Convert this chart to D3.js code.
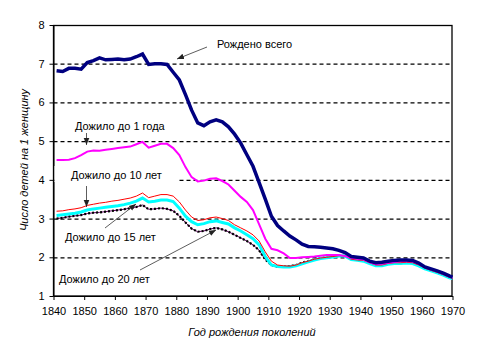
<!DOCTYPE html>
<html>
<head>
<meta charset="utf-8">
<script src="https://cdn.jsdelivr.net/npm/d3@7/dist/d3.min.js"></script>
<style>
  body { margin: 0; background: #fff; }
  text { font-family: "Liberation Sans", Arial, sans-serif; }
</style>
</head>
<body>
<div class="canvas"></div>
<script>
// Годы рождения поколений
const years = [1841, 1843, 1845, 1847, 1849, 1851, 1853, 1855, 1857, 1859,
  1861, 1863, 1865, 1867, 1869, 1871, 1873, 1875, 1877, 1879,
  1881, 1883, 1885, 1887, 1889, 1891, 1893, 1895, 1897, 1899,
  1901, 1903, 1905, 1907, 1909, 1911, 1913, 1915, 1917, 1919,
  1921, 1923, 1925, 1927, 1929, 1931, 1933, 1935, 1937, 1939,
  1941, 1943, 1945, 1947, 1949, 1951, 1953, 1955, 1957, 1959,
  1961, 1963, 1965, 1967, 1969, 1970];

const born = [6.82, 6.80, 6.88, 6.88, 6.86, 7.03, 7.08, 7.15, 7.10, 7.11,
  7.12, 7.10, 7.12, 7.18, 7.25, 6.98, 7.00, 7.00, 6.98, 6.78,
  6.58, 6.20, 5.80, 5.47, 5.40, 5.50, 5.55, 5.50, 5.37, 5.18,
  4.95, 4.65, 4.35, 3.93, 3.50, 3.06, 2.82, 2.68, 2.55, 2.45,
  2.34, 2.28, 2.27, 2.26, 2.24, 2.22, 2.18, 2.12, 2.02, 2.00,
  1.98, 1.90, 1.86, 1.87, 1.90, 1.92, 1.93, 1.93, 1.92, 1.85,
  1.75, 1.70, 1.65, 1.59, 1.52, 1.49];

const age1 = [4.51, 4.51, 4.52, 4.56, 4.64, 4.73, 4.76, 4.75, 4.78, 4.80,
  4.82, 4.84, 4.86, 4.92, 4.98, 4.83, 4.88, 4.93, 4.93, 4.82,
  4.64, 4.33, 4.07, 3.96, 3.98, 4.03, 4.04, 3.97, 3.88, 3.72,
  3.56, 3.43, 3.22, 2.85, 2.48, 2.22, 2.18, 2.10, 1.98, 1.98,
  2.00, 2.01, 2.02, 2.04, 2.06, 2.06, 2.06, 2.03, 1.98, 1.96,
  1.94, 1.87, 1.82, 1.83, 1.86, 1.88, 1.90, 1.90, 1.89, 1.83,
  1.74, 1.68, 1.63, 1.57, 1.50, 1.47];

const age10 = [3.19, 3.20, 3.23, 3.25, 3.28, 3.34, 3.37, 3.40, 3.42, 3.45,
  3.47, 3.50, 3.53, 3.58, 3.66, 3.54, 3.58, 3.62, 3.62, 3.58,
  3.43, 3.22, 3.04, 2.95, 2.97, 3.02, 3.04, 3.00, 2.95, 2.84,
  2.76, 2.68, 2.58, 2.42, 2.14, 1.90, 1.80, 1.78, 1.77, 1.80,
  1.86, 1.90, 1.95, 1.98, 2.00, 2.02, 2.04, 2.04, 1.95, 1.93,
  1.92, 1.86, 1.80, 1.80, 1.84, 1.86, 1.86, 1.87, 1.86, 1.80,
  1.72, 1.66, 1.61, 1.55, 1.48, 1.46];

const age15 = [3.08, 3.10, 3.12, 3.14, 3.17, 3.22, 3.25, 3.27, 3.29, 3.31,
  3.33, 3.36, 3.40, 3.45, 3.53, 3.43, 3.45, 3.48, 3.48, 3.44,
  3.27, 3.06, 2.92, 2.84, 2.87, 2.92, 2.94, 2.90, 2.86, 2.76,
  2.68, 2.58, 2.48, 2.32, 2.02, 1.80, 1.76, 1.75, 1.75, 1.78,
  1.83, 1.88, 1.93, 1.97, 1.99, 2.01, 2.03, 2.03, 1.94, 1.92,
  1.90, 1.84, 1.78, 1.78, 1.82, 1.84, 1.84, 1.85, 1.84, 1.78,
  1.70, 1.65, 1.60, 1.54, 1.47, 1.45];

const age20 = [3.00, 3.02, 3.05, 3.07, 3.09, 3.13, 3.15, 3.16, 3.18, 3.20,
  3.22, 3.24, 3.27, 3.30, 3.35, 3.24, 3.25, 3.27, 3.25, 3.20,
  3.07, 2.90, 2.74, 2.66, 2.68, 2.73, 2.76, 2.72, 2.66, 2.58,
  2.50, 2.42, 2.32, 2.18, 1.94, 1.80, 1.75, 1.76, 1.77, 1.80,
  1.86, 1.90, 1.95, 1.98, 2.00, 2.02, 2.04, 2.04, 1.95, 1.93,
  1.91, 1.85, 1.79, 1.80, 1.83, 1.85, 1.85, 1.86, 1.85, 1.79,
  1.71, 1.66, 1.61, 1.55, 1.48, 1.46];

const xTicks = [1840, 1850, 1860, 1870, 1880, 1890, 1900, 1910, 1920, 1930, 1940, 1950, 1960, 1970];
const yTicks = [1, 2, 3, 4, 5, 6, 7, 8];

const svg = d3.select('.canvas')
              .append('svg')
              .attr('width', 481)
              .attr('height', 359);

const plotLeft = 53.5, plotRight = 452.5, plotTop = 25, plotBottom = 296;

const x = d3.scaleLinear().domain([1840, 1970]).range([plotLeft, plotRight]);
const y = d3.scaleLinear().domain([1, 8]).range([plotBottom, plotTop]);

// horizontal dashed grid, made from an axis with long ticks
const gridAxis = d3.axisLeft(y)
                   .tickValues(yTicks.filter(d => d > 1 && d < 8))
                   .tickSize(-(plotRight - plotLeft))
                   .tickFormat('');
const gridGroup = svg.append('g')
                     .attr('transform', `translate(${plotLeft}, 0)`)
                     .call(gridAxis);
gridGroup.select('.domain').remove();
gridGroup.selectAll('line')
         .attr('stroke', '#000')
         .attr('stroke-width', 1.3)
         .attr('stroke-dasharray', '4,3');

// frame on top and right
svg.append('rect')
   .attr('x', plotLeft).attr('y', plotTop + 0.5)
   .attr('width', plotRight - plotLeft - 0.5)
   .attr('height', plotBottom - plotTop - 0.5)
   .attr('fill', 'none')
   .attr('stroke', '#000')
   .attr('stroke-width', 1.3);

// axes
const xAxis = d3.axisBottom(x).tickValues(xTicks).tickFormat(d3.format('d'))
                .tickSize(4).tickSizeOuter(0).tickPadding(7);
const yAxis = d3.axisLeft(y).tickValues(yTicks).tickFormat(d3.format('d'))
                .tickSize(4).tickSizeOuter(0).tickPadding(5);

const xg = svg.append('g').attr('transform', `translate(0, ${plotBottom})`).call(xAxis);
const yg = svg.append('g').attr('transform', `translate(${plotLeft}, 0)`).call(yAxis);
[xg, yg].forEach(g => {
  g.selectAll('text').attr('font-size', 11).attr('fill', '#000')
   .attr('font-family', '"Liberation Sans", Arial, sans-serif');
  g.selectAll('line, path').attr('stroke', '#000');
});

// white box of the "10 лет" label hides the grid line behind it
svg.append('rect')
   .attr('x', plotLeft + 1).attr('y', 166)
   .attr('width', 178 - plotLeft - 1).attr('height', 16)
   .attr('fill', '#fff');

const line = d3.line().x((d, i) => x(years[i])).y(d => y(d));

// series
svg.append('path').datum(age20).attr('d', line)
   .attr('fill', 'none').attr('stroke', '#600060').attr('stroke-width', 1);
svg.append('path').datum(age20).attr('d', line)
   .attr('fill', 'none').attr('stroke', '#000').attr('stroke-width', 2.2)
   .attr('stroke-dasharray', '2,2');
svg.append('path').datum(age15).attr('d', line)
   .attr('fill', 'none').attr('stroke', '#00FFFF').attr('stroke-width', 3);
svg.append('path').datum(age10).attr('d', line)
   .attr('fill', 'none').attr('stroke', '#FF0000').attr('stroke-width', 1);
svg.append('path').datum(age1).attr('d', line)
   .attr('fill', 'none').attr('stroke', '#FF00FF').attr('stroke-width', 2);
svg.append('path').datum(born).attr('d', line)
   .attr('fill', 'none').attr('stroke', '#000080').attr('stroke-width', 3.5);

// arrows
svg.append('defs').append('marker')
   .attr('id', 'arr')
   .attr('viewBox', '0 0 10 10')
   .attr('refX', 10).attr('refY', 5)
   .attr('markerWidth', 7).attr('markerHeight', 7)
   .attr('markerUnits', 'userSpaceOnUse')
   .attr('orient', 'auto')
   .append('path').attr('d', 'M0,1L10,5L0,9Z').attr('fill', '#222');

const arrows = [
  [207, 47, 177, 59],
  [86.5, 133, 86.5, 145],
  [86.5, 186, 86.5, 207],
  [105, 228, 136, 204],
  [140, 270, 216, 230]
];
svg.append('g').selectAll('line').data(arrows).enter().append('line')
   .attr('x1', d => d[0]).attr('y1', d => d[1])
   .attr('x2', d => d[2]).attr('y2', d => d[3])
   .attr('stroke', '#333').attr('stroke-width', 0.8)
   .attr('marker-end', 'url(#arr)');

const notes = [
  ['Рождено всего', 217, 48],
  ['Дожило до 1 года', 75, 130],
  ['Дожило до 10 лет', 71, 179],
  ['Дожило до 15 лет', 65, 241],
  ['Дожило до 20 лет', 59, 283]
];
svg.append('g').selectAll('text').data(notes).enter().append('text')
   .attr('x', d => d[1]).attr('y', d => d[2])
   .attr('font-size', 11).attr('fill', '#000')
   .text(d => d[0]);

// axis titles
svg.append('text')
   .attr('x', 252).attr('y', 336)
   .attr('text-anchor', 'middle')
   .attr('font-size', 11).attr('font-style', 'italic')
   .text('Год рождения поколений');

svg.append('text')
   .attr('transform', 'translate(28, 160) rotate(-90)')
   .attr('text-anchor', 'middle')
   .attr('font-size', 11).attr('font-style', 'italic')
   .text('Число детей на 1 женщину');
</script>
</body>
</html>
